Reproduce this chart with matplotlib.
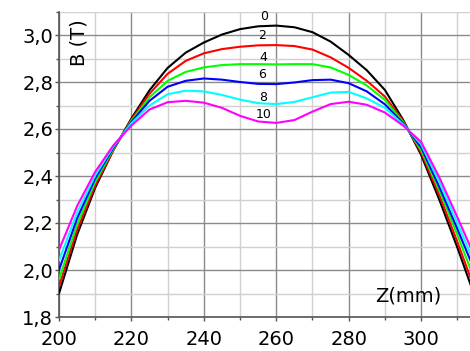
import matplotlib
matplotlib.use("Agg")
import matplotlib.pyplot as plt
from matplotlib.ticker import MultipleLocator, FuncFormatter

z = [200, 205, 210, 215, 220, 225, 230, 235, 240, 245, 250, 255,
     260, 265, 270, 275, 280, 285, 290, 295, 300, 305, 310, 315]

b0 = [1.900, 2.150, 2.350, 2.510, 2.645, 2.765, 2.860, 2.925, 2.968, 3.002, 3.025, 3.037,
      3.040, 3.033, 3.012, 2.972, 2.915, 2.850, 2.766, 2.640, 2.490, 2.300, 2.096, 1.880]
b2 = [1.930, 2.170, 2.360, 2.510, 2.640, 2.750, 2.835, 2.890, 2.922, 2.940, 2.950, 2.956,
      2.957, 2.953, 2.938, 2.905, 2.860, 2.805, 2.738, 2.635, 2.500, 2.320, 2.120, 1.910]
b4 = [1.960, 2.195, 2.375, 2.515, 2.635, 2.735, 2.805, 2.843, 2.862, 2.872, 2.876, 2.876,
      2.875, 2.876, 2.876, 2.862, 2.830, 2.785, 2.724, 2.630, 2.510, 2.340, 2.150, 1.950]
b6 = [2.000, 2.220, 2.390, 2.520, 2.630, 2.720, 2.780, 2.805, 2.815, 2.810, 2.800, 2.792,
      2.791, 2.798, 2.808, 2.810, 2.795, 2.760, 2.705, 2.625, 2.522, 2.355, 2.175, 1.990]
b8 = [2.040, 2.245, 2.403, 2.525, 2.625, 2.700, 2.748, 2.763, 2.760, 2.745, 2.725, 2.710,
      2.706, 2.715, 2.735, 2.755, 2.758, 2.730, 2.690, 2.620, 2.535, 2.375, 2.200, 2.020]
b10 = [2.085, 2.272, 2.418, 2.530, 2.615, 2.683, 2.714, 2.720, 2.712, 2.690, 2.656, 2.632,
       2.626, 2.638, 2.674, 2.706, 2.716, 2.703, 2.670, 2.615, 2.545, 2.395, 2.225, 2.050]

series = [b0, b2, b4, b6, b8, b10]
curve_labels = ["0", "2", "4", "6", "8", "10"]
colors = ["#000000", "#ff0000", "#00ff00", "#0000ff", "#00ffff", "#ff00ff"]
label_pos = [(256.6, 3.077), (256.2, 2.996), (256.4, 2.906), (256.2, 2.830),
             (256.4, 2.736), (256.5, 2.660)]

plt.rcParams['font.family'] = ['DejaVu Sans']

fig = plt.figure(figsize=(4.70, 3.51), dpi=100)
ax = fig.add_axes([59/470, 34/351, 411/470, 305.5/351])

for s, c in zip(series, colors):
    ax.plot(z, s, color=c, lw=1.5, solid_capstyle='round', solid_joinstyle='round', zorder=3)

for t, (x, y) in zip(curve_labels, label_pos):
    ax.text(x, y, t, fontsize=9, ha='center', va='center', color='black', zorder=4)

ax.set_xlim(200, 313.5)
ax.set_ylim(1.8, 3.1)
ax.xaxis.set_major_locator(MultipleLocator(20))
ax.xaxis.set_minor_locator(MultipleLocator(10))
ax.yaxis.set_major_locator(MultipleLocator(0.2))
ax.yaxis.set_minor_locator(MultipleLocator(0.1))
ax.yaxis.set_major_formatter(FuncFormatter(lambda v, p: f"{v:.1f}".replace(".", ",")))

ax.grid(which='major', color='#8a8a8a', lw=1.0, zorder=1)
ax.grid(which='minor', color='#d0d0d0', lw=1.0, zorder=0)
ax.set_axisbelow(True)

for side in ['top', 'right']:
    ax.spines[side].set_visible(False)
for side in ['left', 'bottom']:
    ax.spines[side].set_color('#555555')
    ax.spines[side].set_linewidth(1.2)

ax.tick_params(which='both', direction='out', color='#555555', width=1.0)
ax.tick_params(which='major', length=3, labelsize=14)
ax.tick_params(which='minor', length=2.5)
ax.tick_params(axis='x', which='major', pad=6.5)
ax.tick_params(axis='y', which='major', pad=1.3)

ax.text(0.049, 0.897, "B (T)", transform=ax.transAxes, rotation=90,
        fontsize=14, ha='center', va='center')
ax.text(0.849, 0.069, "Z(mm)", transform=ax.transAxes,
        fontsize=14, ha='center', va='center')

fig.savefig("out.png", dpi=100)
